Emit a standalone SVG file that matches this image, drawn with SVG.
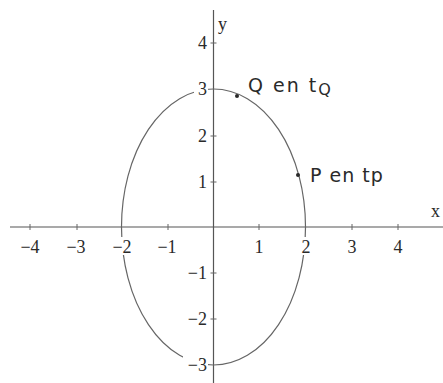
<svg xmlns="http://www.w3.org/2000/svg" width="443" height="383" viewBox="0 0 443 383">
<style>
.ax{stroke:#555;stroke-width:1.2;fill:none}
.tk{stroke:#666;stroke-width:1}
.lb{font-family:"Liberation Serif",serif;font-size:18px;fill:#2a2a2a}
.hw{font-family:"DejaVu Sans",sans-serif;font-size:19px;fill:#2a2a2a}
.bg{fill:#fff}
</style>
<rect width="443" height="383" fill="#fff"/>
<g id="connectors">
<path class="ax" d="M10 227H443"/>
<path class="ax" d="M213.5 10V383"/>
<path class="tk" d="M30 224v6M77 224v6M168 224v6M259 224v6M352 224v6M398 224v6M210.5 43h6M210.5 136h6M210.5 182h6M210.5 273h6M210.5 319h6"/>
<ellipse id="ellipse" cx="213.5" cy="227" rx="92" ry="138" fill="none" stroke="#666" stroke-width="1.2"/>
</g>
<g id="labels">
<rect class="bg" x="111" y="237" width="24" height="18"/>
<rect class="bg" x="298" y="237" width="15" height="18"/>
<rect class="bg" x="194" y="80" width="14" height="17"/>
<rect class="bg" x="183" y="356" width="25" height="18"/>
<text class="lb" x="30" y="253" text-anchor="middle">−4</text>
<text class="lb" x="76" y="253" text-anchor="middle">−3</text>
<text class="lb" x="122" y="253" text-anchor="middle">−2</text>
<text class="lb" x="167" y="253" text-anchor="middle">−1</text>
<text class="lb" x="259" y="253" text-anchor="middle">1</text>
<text class="lb" x="306" y="253" text-anchor="middle">2</text>
<text class="lb" x="352" y="253" text-anchor="middle">3</text>
<text class="lb" x="398" y="253" text-anchor="middle">4</text>
<text class="lb" x="207" y="49" text-anchor="end">4</text>
<text class="lb" x="207" y="95" text-anchor="end">3</text>
<text class="lb" x="207" y="142" text-anchor="end">2</text>
<text class="lb" x="207" y="188" text-anchor="end">1</text>
<text class="lb" x="207" y="279" text-anchor="end">−1</text>
<text class="lb" x="207" y="325" text-anchor="end">−2</text>
<text class="lb" x="207" y="371" text-anchor="end">−3</text>
<text class="lb" x="218" y="30">y</text>
<text class="lb" x="431" y="217">x</text>
</g>
<g id="Q">
<circle cx="237" cy="96" r="2" fill="#2a2a2a"/>
<text class="hw" x="248" y="92" letter-spacing="2">Q en t<tspan font-size="16" dy="3" fill="#2a2a2a">Q</tspan></text>
</g>
<g id="P">
<circle cx="298" cy="175" r="2" fill="#2a2a2a"/>
<text class="hw" x="310" y="182" letter-spacing="1">P en tp</text>
</g>
</svg>
